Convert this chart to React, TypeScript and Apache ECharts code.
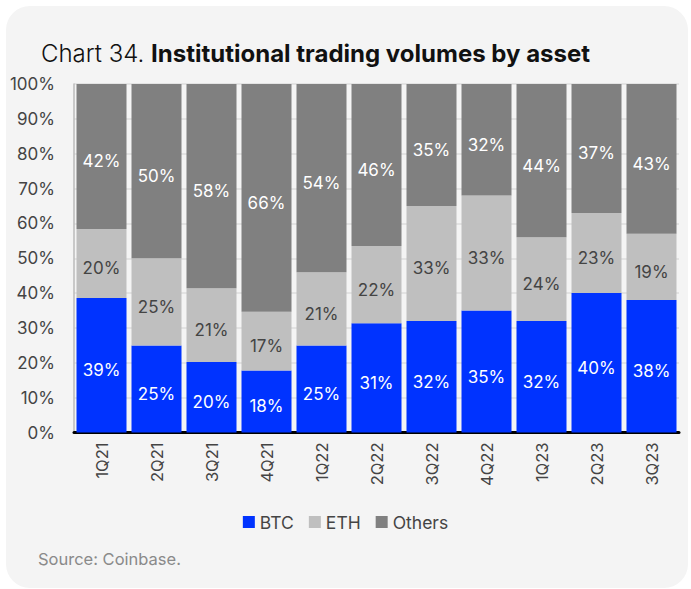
import React, { useEffect, useRef } from "react";
import * as echarts from "echarts";

const categories = ["1Q21", "2Q21", "3Q21", "4Q21", "1Q22", "2Q22", "3Q22", "4Q22", "1Q23", "2Q23", "3Q23"];
const btc = [39, 25, 20, 18, 25, 31, 32, 35, 32, 40, 38];
const eth = [20, 25, 21, 17, 21, 22, 33, 33, 24, 23, 19];
const others = [42, 50, 58, 66, 54, 46, 35, 32, 44, 37, 43];
const yTicks = [0, 10, 20, 30, 40, 50, 60, 70, 80, 90, 100];

const FONT = "Inter, 'Noto Sans', sans-serif";

export default function App() {
  const ref = useRef<HTMLDivElement>(null);
  useEffect(() => {
    if (!ref.current) return;
    const chart = echarts.init(ref.current, undefined, { renderer: "svg" });
    const totals = categories.map((_, i) => btc[i] + eth[i] + others[i]);
    // 100% stacked: each share normalised by its quarter's total
    const toData = (arr: number[]) =>
      arr.map((v, i) => ({ value: (v / totals[i]) * 100, raw: v }));
    const mk = (name: string, arr: number[], color: string, labelColor: string) => ({
      name,
      type: "bar",
      stack: "total",
      barWidth: 50,
      data: toData(arr),
      itemStyle: { color },
      label: {
        show: true,
        position: "inside",
        offset: [0, 5],
        color: labelColor,
        fontFamily: FONT,
        fontSize: 17,
        formatter: (p: any) => `${p.data.raw}%`,
      },
      emphasis: { disabled: true },
    });
    chart.setOption({
      animation: false,
      textStyle: { fontFamily: FONT },
      graphic: [
        {
          type: "rect",
          left: 6,
          top: 6,
          shape: { width: 682, height: 582, r: 24 },
          style: { fill: "#f4f4f4" },
          z: -10,
        },
        {
          type: "text",
          left: 38,
          top: 560 - 10,
          style: { text: "Source: Coinbase.", fill: "#8a8a8a", fontSize: 16.5, fontFamily: FONT },
        },
      ],
      title: {
        text: "{a|Chart 34. }{b|Institutional trading volumes by asset}",
        left: 36,
        top: 36,
        textStyle: {
          rich: {
            a: { fontSize: 24, fontFamily: FONT, color: "#111", fontWeight: 300 },
            b: { fontSize: 24, fontFamily: FONT, color: "#111", fontWeight: "bold" },
          },
        },
      },
      legend: {
        bottom: 589 - 536,
        left: "center",
        itemWidth: 12,
        itemHeight: 12,
        itemGap: 15,
        icon: "rect",
        textStyle: { fontSize: 17.5, color: "#444", fontFamily: FONT },
        data: ["BTC", "ETH", "Others"],
      },
      grid: { left: 74, right: 12, top: 84, bottom: 156.5, containLabel: false },
      xAxis: {
        type: "category",
        data: categories,
        axisLine: { show: true, lineStyle: { color: "#000", width: 3 } },
        axisTick: { show: false },
        axisLabel: { rotate: 90, margin: 10, fontSize: 16.5, color: "#444", fontFamily: FONT },
      },
      yAxis: {
        type: "value",
        min: yTicks[0],
        max: yTicks[yTicks.length - 1],
        interval: 10,
        axisLine: { show: true, lineStyle: { color: "#bbb", width: 1.5 } },
        axisTick: { show: false },
        splitLine: { lineStyle: { color: "#dedede", width: 1.5 } },
        axisLabel: { formatter: "{value}%", fontSize: 17, color: "#444", margin: 19, fontFamily: FONT },
      },
      series: [
        mk("BTC", btc, "#0033ff", "#ffffff"),
        mk("ETH", eth, "#bfbfbf", "#444444"),
        mk("Others", others, "#808080", "#ffffff"),
      ],
    });
    return () => chart.dispose();
  }, []);
  return (
    <div style={{ position: "absolute", left: 0, top: 0, width: 691, height: 589, background: "#fff" }}>
      <div ref={ref} style={{ width: 691, height: 589 }} />
    </div>
  );
}
